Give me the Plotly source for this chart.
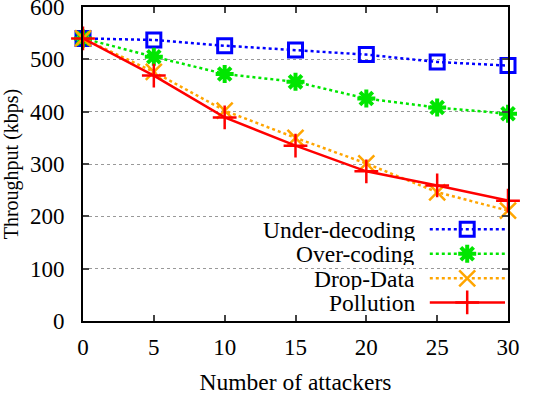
import plotly.graph_objects as go

attackers = [0, 5, 10, 15, 20, 25, 30]
under_decoding = [540, 537, 526, 518, 509, 495, 488]
over_coding = [540, 505, 472, 457, 425, 408, 396]
drop_data = [540, 476, 402, 350, 301, 246, 211]
pollution = [540, 469, 389, 335, 286, 259, 230]

names = ["Under-decoding", "Over-coding", "Drop-Data", "Pollution"]
series = [under_decoding, over_coding, drop_data, pollution]
colors = ["#0000ff", "#00e600", "#ffa500", "#ff0000"]
symbols = ["square-open", "asterisk-open", "x-thin-open", "cross-thin-open"]
dashes = ["dot", "dot", "dot", "solid"]
lwidths = [2.5, 2.5, 2.5, 2.5]
msizes = [14, 15, 16, 17]
mlw = [3, 4, 2.5, 2.5]

FONT = "Liberation Serif"
fig = go.Figure()

for n, ys, c, s, d, lw, ms, mw in zip(names, series, colors, symbols, dashes, lwidths, msizes, mlw):
    fig.add_trace(go.Scatter(
        x=attackers, y=ys, mode="lines+markers", name=n, showlegend=False,
        line=dict(color=c, width=lw, dash=d),
        marker=dict(symbol=s, size=ms, color=c, line=dict(color=c, width=mw)),
        cliponaxis=False,
    ))

# custom key (text on the left, sample on the right), drawn on an overlay axis in paper-like units
key_y = [0.292, 0.214, 0.136, 0.059]
for n, ky, c, s, d, lw, ms, mw in zip(names, key_y, colors, symbols, dashes, lwidths, msizes, mlw):
    fig.add_trace(go.Scatter(
        x=[0.816, 0.993], y=[ky, ky], mode="lines", showlegend=False,
        line=dict(color=c, width=lw, dash=d), xaxis="x2", yaxis="y2", hoverinfo="skip"))
    fig.add_trace(go.Scatter(
        x=[0.904], y=[ky], mode="markers", showlegend=False,
        marker=dict(symbol=s, size=ms, color=c, line=dict(color=c, width=mw)),
        xaxis="x2", yaxis="y2", hoverinfo="skip"))
    fig.add_annotation(x=0.783, y=ky, xref="x2", yref="y2", text=n, showarrow=False,
                       xanchor="right", yanchor="middle", height=23, borderpad=0,
                       font=dict(family=FONT, size=23.5, color="black"))

# opaque key background hiding the grid
fig.add_shape(type="rect", xref="paper", yref="paper", x0=0.29, x1=1.0, y0=0.01, y1=0.40,
              fillcolor="white", line=dict(width=0), layer="between")

fig.update_layout(
    width=552, height=395,
    margin=dict(l=83, r=44, t=7, b=74),
    paper_bgcolor="white", plot_bgcolor="white",
    font=dict(family=FONT, size=22, color="black"),
    xaxis=dict(range=[0, 30], tickvals=attackers, ticks="inside", ticklen=6, tickwidth=1.5,
               showline=True, linecolor="black", linewidth=2, mirror="ticks",
               showgrid=False, zeroline=False, ticklabelstandoff=4,
               ticklabeloverflow="allow", automargin=False,
               title=dict(text="Number of attackers", standoff=22,
                          font=dict(family=FONT, size=23.5)),
               tickfont=dict(family=FONT, size=23)),
    yaxis=dict(range=[0, 600], tickvals=[0, 100, 200, 300, 400, 500, 600], ticks="inside",
               ticklen=6, tickwidth=1.5,
               showline=True, linecolor="black", linewidth=2, mirror="ticks",
               showgrid=True, gridcolor="#999999", griddash="dot", gridwidth=1,
               zeroline=False, ticklabelstandoff=12, ticklabeloverflow="allow",
               automargin=False,
               title=dict(text="Throughput (kbps)", standoff=10,
                          font=dict(family=FONT, size=20)),
               tickfont=dict(family=FONT, size=23)),
    xaxis2=dict(overlaying="x", range=[0, 1], visible=False),
    yaxis2=dict(overlaying="y", range=[0, 1], visible=False),
)

fig.write_html("out.html")
